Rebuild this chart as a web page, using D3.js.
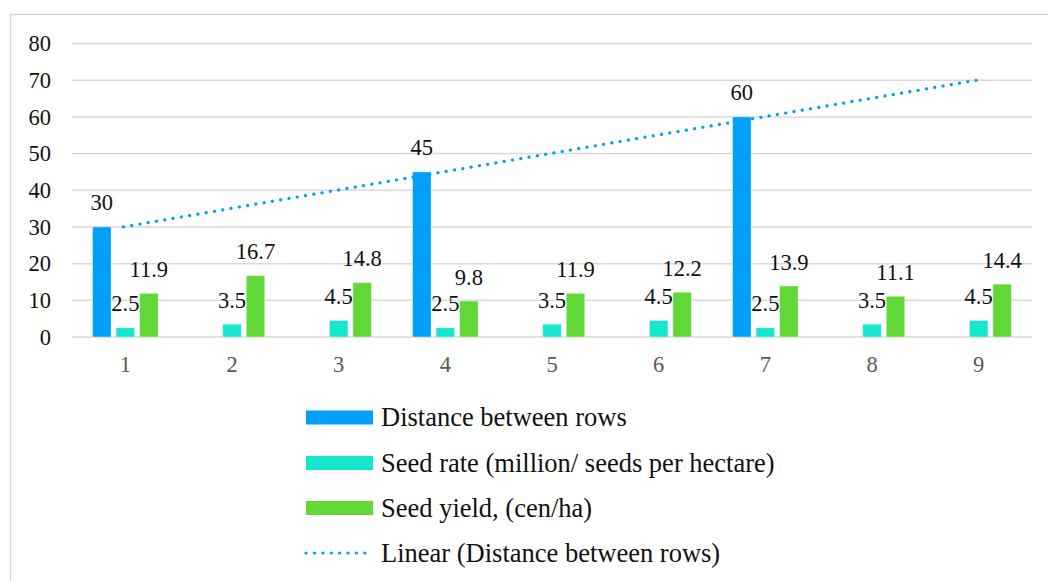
<!DOCTYPE html>
<html>
<head>
<meta charset="utf-8">
<script src="https://cdn.jsdelivr.net/npm/d3@7"></script>
<style>
  html, body { margin: 0; padding: 0; background: #fff; }
  svg { display: block; }
</style>
</head>
<body>
<svg id="chart" width="1048" height="581"></svg>
<script>
// Categories along the x axis
const categories = ["1", "2", "3", "4", "5", "6", "7", "8", "9"];
// Row spacing (only set for plots 1, 4 and 7)
const distanceBetweenRows = [30, null, null, 45, null, null, 60, null, null];
// Seed rate, million seeds per hectare
const seedRate = [2.5, 3.5, 4.5, 2.5, 3.5, 4.5, 2.5, 3.5, 4.5];
// Seed yield, centners per hectare
const seedYield = [11.9, 16.7, 14.8, 9.8, 11.9, 12.2, 13.9, 11.1, 14.4];
// Y axis ticks
const yTicks = [0, 10, 20, 30, 40, 50, 60, 70, 80];

const seriesNames = [
  "Distance between rows",
  "Seed rate (million/ seeds per hectare)",
  "Seed yield, (cen/ha)"
];
const trendName = "Linear (Distance between rows)";
const colors = ["#009ffa", "#17e6cf", "#61d836"];

const FONT = "Liberation Serif";
const NUM_SIZE = 22.5;
const LEGEND_SIZE = 26.5;

const svg = d3.select("#chart");
const W = 1048, H = 581;

// outer frame
svg.append("rect")
  .attr("x", 10.5).attr("y", 14.5)
  .attr("width", W).attr("height", H)
  .attr("fill", "#fff").attr("stroke", "#d9d9d9").attr("stroke-width", 1.5);

const plot = { left: 72, right: 1032, top: 43.5, bottom: 337 };

const x = d3.scaleBand().domain(categories).range([plot.left, plot.right]).paddingInner(0).paddingOuter(0);
const y = d3.scaleLinear().domain([0, 80]).range([plot.bottom, plot.top]);

// gridlines
svg.append("g").selectAll("line").data(yTicks).join("line")
  .attr("x1", plot.left).attr("x2", plot.right)
  .attr("y1", d => y(d)).attr("y2", d => y(d))
  .attr("stroke", "#d9d9d9").attr("stroke-width", 1.5);

// y axis labels
const yAxis = svg.append("g").attr("transform", `translate(${plot.left - 21},0)`)
  .call(d3.axisLeft(y).tickValues(yTicks).tickSize(0).tickPadding(0));
yAxis.attr("font-family", FONT).attr("font-size", NUM_SIZE);
yAxis.select(".domain").remove();
yAxis.selectAll("text").attr("fill", "#111");

// x axis labels
const xAxis = svg.append("g").attr("transform", `translate(0,${plot.bottom})`)
  .call(d3.axisBottom(x).tickSize(0).tickPadding(19));
xAxis.attr("font-family", FONT).attr("font-size", NUM_SIZE);
xAxis.select(".domain").remove();
xAxis.selectAll("text").attr("fill", "#595959");

// bars with their value labels
const barW = 18.5, barGap = 5;
const inner = d3.scaleBand().domain([0, 1, 2])
  .range([-(barW * 1.5 + barGap), barW * 1.5 + barGap])
  .paddingInner(barGap / (barW + barGap)).paddingOuter(0);
const series = [distanceBetweenRows, seedRate, seedYield];

series.forEach((vals, si) => {
  const pts = categories.map((c, i) => ({ c, v: vals[i] })).filter(d => d.v != null);
  const g = svg.append("g");
  g.selectAll("rect").data(pts).join("rect")
    .attr("x", d => x(d.c) + x.bandwidth() / 2 + inner(si))
    .attr("width", inner.bandwidth())
    .attr("y", d => y(d.v))
    .attr("height", d => y(0) - y(d.v))
    .attr("fill", colors[si])
    .attr("stroke", "#ffffff").attr("stroke-opacity", 0.5).attr("stroke-width", 0.75);
  g.selectAll("text").data(pts).join("text")
    .attr("x", d => x(d.c) + x.bandwidth() / 2 + inner(si) + inner.bandwidth() / 2)
    .attr("y", d => y(d.v) - 16.5)
    .attr("text-anchor", "middle")
    .attr("font-family", FONT)
    .attr("font-size", NUM_SIZE).attr("fill", "#111")
    .text(d => d.v);
});

// linear trendline of the row distance series (least squares over the set points)
const known = distanceBetweenRows.map((v, i) => ({ i: i + 1, v })).filter(d => d.v != null);
const mx = d3.mean(known, d => d.i), my = d3.mean(known, d => d.v);
const slope = d3.sum(known, d => (d.i - mx) * (d.v - my)) / d3.sum(known, d => (d.i - mx) ** 2);
const intercept = my - slope * mx;
const trendPts = [1, categories.length].map(i => ({ c: categories[i - 1], v: intercept + slope * i }));
const line = d3.line().x(d => x(d.c) + x.bandwidth() / 2 - 2).y(d => y(d.v));
svg.append("path")
  .attr("d", line(trendPts))
  .attr("fill", "none").attr("stroke", colors[0])
  .attr("stroke-width", 3.2).attr("stroke-linecap", "round")
  .attr("stroke-dasharray", "0.1 8.3");

// legend
const legend = svg.append("g").attr("font-family", FONT).attr("font-size", LEGEND_SIZE).attr("fill", "#111");
const legendBase = [426, 471.5, 516.5, 561.5];
seriesNames.forEach((name, i) => {
  legend.append("rect")
    .attr("x", 306).attr("y", legendBase[i] - 15.5).attr("width", 67).attr("height", 14)
    .attr("fill", colors[i]);
  legend.append("text")
    .attr("x", 381).attr("y", legendBase[i]).text(name);
});
legend.append("line")
  .attr("x1", 306).attr("x2", 368).attr("y1", legendBase[3] - 8.5).attr("y2", legendBase[3] - 8.5)
  .attr("stroke", colors[0]).attr("stroke-width", 3.2).attr("stroke-linecap", "round")
  .attr("stroke-dasharray", "0.1 8.3");
legend.append("text")
  .attr("x", 381).attr("y", legendBase[3]).text(trendName);
</script>
</body>
</html>
